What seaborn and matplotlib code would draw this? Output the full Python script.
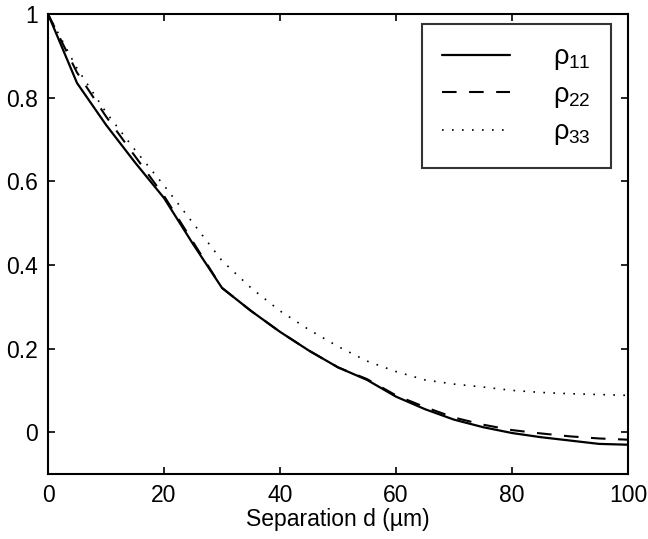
import matplotlib
matplotlib.use("Agg")
import matplotlib.pyplot as plt
import seaborn as sns
import pandas as pd

d = [0, 5, 10, 15, 20, 25, 30, 35, 40, 45, 50, 55, 60, 65, 70, 75, 80, 85, 90, 95, 100]
rho11 = [1.0, 0.835, 0.735, 0.645, 0.56, 0.45, 0.345, 0.29, 0.24, 0.195, 0.155, 0.125, 0.085,
         0.055, 0.03, 0.012, -0.002, -0.012, -0.02, -0.028, -0.03]
rho22 = [1.0, 0.86, 0.755, 0.66, 0.565, 0.455, 0.345, 0.29, 0.24, 0.195, 0.155, 0.127, 0.088,
         0.06, 0.035, 0.018, 0.005, -0.003, -0.01, -0.015, -0.018]
rho33 = [1.0, 0.87, 0.765, 0.675, 0.59, 0.5, 0.41, 0.345, 0.29, 0.245, 0.205, 0.17, 0.145,
         0.125, 0.115, 0.108, 0.1, 0.095, 0.092, 0.09, 0.088]
labels = [r"$\rho_{11}$", r"$\rho_{22}$", r"$\rho_{33}$"]
xticks = [0, 20, 40, 60, 80, 100]
yticks = [0, 0.2, 0.4, 0.6, 0.8, 1]

sns.set_style("ticks")
plt.rcParams["font.family"] = ["Liberation Sans", "DejaVu Sans"]
plt.rcParams["mathtext.fontset"] = "custom"
plt.rcParams["mathtext.rm"] = "Liberation Sans"
plt.rcParams["mathtext.it"] = "Liberation Sans"
plt.rcParams["text.color"] = "black"
plt.rcParams["xtick.color"] = "black"
plt.rcParams["ytick.color"] = "black"
plt.rcParams["axes.labelcolor"] = "black"

fig = plt.figure(figsize=(6.48, 5.39), dpi=100)
ax = fig.add_axes([0.0741, 0.1206, 0.895, 0.8534])

styles = [("-", None, 1.6), ("--", (7, 6), 1.5), (":", (1, 5), 1.2)]
for vals, lab, (ls, dash, lw) in zip([rho11, rho22, rho33], labels, styles):
    df = pd.DataFrame({"d": d, "v": vals})
    sns.lineplot(data=df, x="d", y="v", ax=ax, linestyle=ls, color="black",
                 linewidth=lw, label=lab)
    l = ax.lines[-1]
    if dash is not None:
        l.set_dashes(dash)

ax.set_xlim(0, 100)
ax.set_ylim(-0.1, 1)
ax.set_xticks(xticks)
ax.set_xticklabels([str(x) for x in xticks])
ax.set_yticks(yticks)
ax.set_yticklabels(["0", "0.2", "0.4", "0.6", "0.8", "1"])
ax.tick_params(direction="in", top=True, right=True, length=5, width=1.2, labelsize=16.5, pad=7,
               colors="black")
ax.set_xlabel("Separation d (µm)", fontsize=16.5, labelpad=1, color="black")
ax.set_ylabel("")
for s in ax.spines.values():
    s.set_linewidth(1.5)
    s.set_color("black")

leg = ax.legend(loc="upper right", bbox_to_anchor=(0.971, 0.978), fontsize=19.5, frameon=True,
                fancybox=False, edgecolor="black", handlelength=2.5, handletextpad=1.6,
                borderpad=0.75, labelspacing=0.35, borderaxespad=0)
leg.get_frame().set_linewidth(1.5)
for t in leg.get_texts():
    t.set_color("black")

fig.savefig("out.png", dpi=100)
